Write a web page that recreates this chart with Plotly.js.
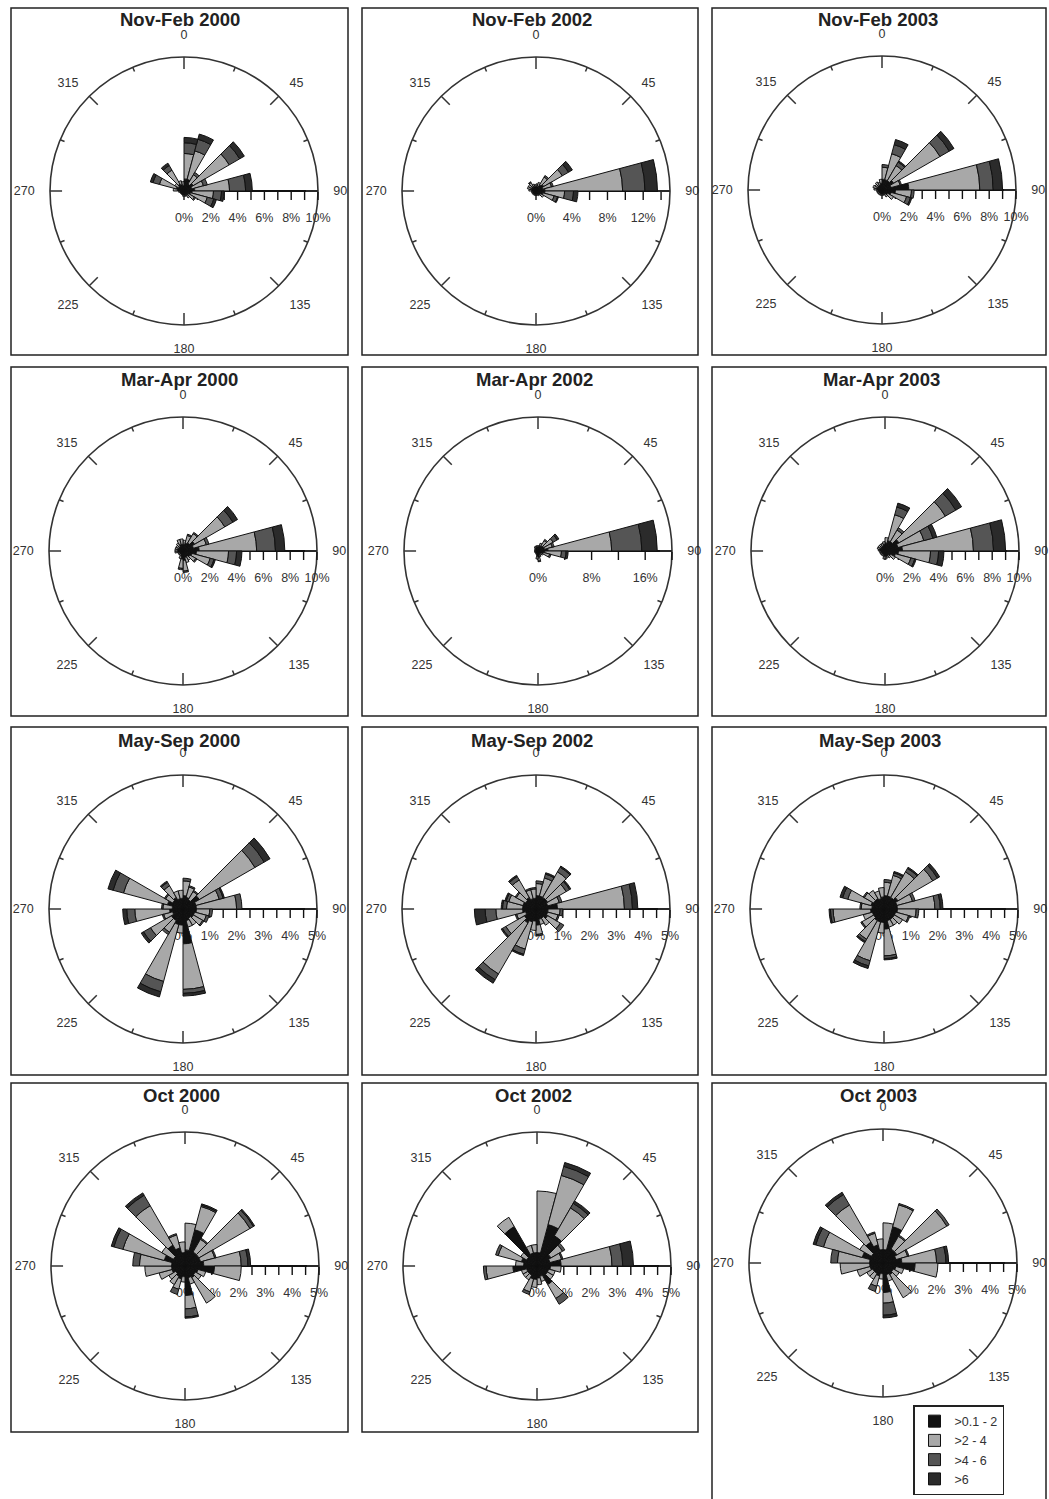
<!DOCTYPE html>
<html><head><meta charset="utf-8">
<script src="https://cdn.plot.ly/plotly-3.0.1.min.js"></script>
<style>html,body{margin:0;padding:0;background:#fff;}#chart{width:1049px;height:1499px;}</style>
</head><body><div id="chart"></div>
<script>
// ---------------- DATA ----------------
const directions = [7.5,22.5,37.5,52.5,67.5,82.5,97.5,112.5,127.5,142.5,157.5,172.5,187.5,202.5,217.5,232.5,247.5,262.5,277.5,292.5,307.5,322.5,337.5,352.5];
const speedClasses = ['>0.1 - 2','>2 - 4','>4 - 6','>6'];
const classColors = ['#111111','#a8a8a8','#555555','#2b2b2b'];
const angleTickValues = [0,45,90,135,180,225,270,315];
const angleTickLabels = ['0','45','90','135','180','225','270','315'];
const minorTickAngles = [22.5,67.5,112.5,157.5,202.5,247.5,292.5,337.5];
const titles = ['Nov-Feb 2000','Nov-Feb 2002','Nov-Feb 2003','Mar-Apr 2000','Mar-Apr 2002','Mar-Apr 2003','May-Sep 2000','May-Sep 2002','May-Sep 2003','Oct 2000','Oct 2002','Oct 2003'];

// each panel: [class >0.1-2, class >2-4, class >4-6, class >6] percent per 15 deg direction bin
const nf00 = [
 [0.9,0.9,0.6,0.8,0.6,0.8,0.6,0.5,0.4,0.4,0.3,0.3,0.3,0.3,0.3,0.3,0.3,0.3,0.5,0.6,0.5,0.6,0.5,0.4],
 [1.9,2.2,0.8,3.1,0.9,2.6,1.6,1.3,0.5,0.2,0.1,0.1,0.1,0,0,0,0,0.1,0.3,1.3,0.3,1.2,0.3,0.3],
 [0.8,0.9,0.2,0.9,0.3,1.2,0.6,0.5,0.1,0,0,0,0,0,0,0,0,0,0,0.5,0,0.4,0,0],
 [0.4,0.4,0,0.4,0,0.5,0.2,0.2,0,0,0,0,0,0,0,0,0,0,0,0.2,0,0.2,0,0]];
const nf02 = [
 [0.5,0.5,0.8,1.0,0.8,1.0,1.0,0.8,0.6,0.5,0.4,0.4,0.4,0.4,0.4,0.4,0.4,0.4,0.5,0.6,0.6,0.6,0.5,0.5],
 [0.3,0.5,1.0,2.4,1.0,8.7,2.2,1.3,0.4,0.1,0.1,0.1,0.1,0.1,0.1,0.1,0.1,0.1,0.3,0.4,0.4,0.5,0.3,0.2],
 [0,0,0.2,0.8,0.2,2.5,1.0,0.4,0,0,0,0,0,0,0,0,0,0,0,0,0,0.1,0,0],
 [0,0,0,0.5,0,1.4,0.5,0.1,0,0,0,0,0,0,0,0,0,0,0,0,0,0,0,0]];
const nf03 = [
 [0.8,0.8,0.8,1.0,0.7,2.0,1.0,0.7,0.5,0.4,0.3,0.3,0.3,0.3,0.3,0.3,0.3,0.3,0.4,0.4,0.4,0.4,0.4,0.5],
 [0.9,2.0,1.3,4.0,0.7,5.3,1.2,1.2,0.5,0.2,0.1,0.1,0.1,0.1,0.1,0.1,0.1,0.1,0.2,0.3,0.2,0.3,0.2,0.3],
 [0.2,0.7,0.3,0.8,0.1,1.0,0.2,0.3,0,0,0,0,0,0,0,0,0,0,0,0,0,0,0,0],
 [0,0.4,0.1,0.4,0,0.7,0,0.1,0,0,0,0,0,0,0,0,0,0,0,0,0,0,0,0]];
const ma00 = [
 [0.5,0.6,0.7,1.0,0.8,1.2,1.0,0.7,0.6,0.5,0.5,0.7,0.6,0.4,0.3,0.3,0.3,0.4,0.4,0.4,0.4,0.4,0.5,0.5],
 [0.3,0.6,0.8,2.6,1.0,4.3,2.4,1.4,0.5,0.3,0.4,0.8,0.7,0.2,0.1,0.1,0.1,0.2,0.2,0.2,0.2,0.3,0.4,0.4],
 [0,0.1,0.1,0.7,0.2,1.4,0.6,0.3,0.1,0,0,0.1,0.1,0,0,0,0,0,0,0,0,0,0,0],
 [0,0,0,0.4,0,0.7,0.4,0.1,0,0,0,0,0,0,0,0,0,0,0,0,0,0,0,0]];
const ma02 = [
 [0.6,0.8,0.9,1.0,1.0,1.5,1.0,0.8,0.6,0.5,0.6,0.9,0.8,0.5,0.4,0.4,0.4,0.4,0.4,0.4,0.5,0.6,0.6,0.6],
 [0.2,0.4,0.9,1.6,1.2,9.5,2.5,1.0,0.3,0.2,0.3,0.6,0.4,0.1,0.1,0.1,0.1,0.1,0.1,0.1,0.1,0.2,0.2,0.2],
 [0,0,0.2,0.7,0.3,4.5,0.7,0.2,0,0,0,0.1,0,0,0,0,0,0,0,0,0,0,0,0],
 [0,0,0,0.3,0,2.3,0.3,0,0,0,0,0,0,0,0,0,0,0,0,0,0,0,0,0]];
const ma03 = [
 [0.6,0.8,0.8,1.2,1.0,1.3,1.0,0.8,0.5,0.4,0.4,0.4,0.4,0.3,0.3,0.3,0.3,0.3,0.4,0.4,0.4,0.4,0.4,0.5],
 [0.4,2.0,1.0,4.0,2.0,5.3,2.4,1.2,0.4,0.2,0.1,0.2,0.2,0.1,0.1,0.1,0.1,0.1,0.1,0.2,0.2,0.2,0.2,0.2],
 [0,0.6,0.2,0.9,0.7,1.5,0.6,0.3,0,0,0,0,0,0,0,0,0,0,0,0,0,0,0,0],
 [0,0.3,0,0.5,0.3,0.9,0.4,0.1,0,0,0,0,0,0,0,0,0,0,0,0,0,0,0,0]];
const ms00 = [
 [0.5,0.45,0.4,0.7,0.5,0.5,0.5,0.45,0.45,0.4,0.45,1.3,0.6,0.6,0.5,0.5,0.4,0.5,0.4,0.6,0.45,0.5,0.4,0.4],
 [0.55,0.4,0.35,2.4,0.9,1.5,0.5,0.45,0.4,0.3,0.25,1.7,0.3,2.2,0.5,0.9,0.35,1.3,0.35,1.7,0.3,0.5,0.3,0.3],
 [0.1,0.05,0.05,0.4,0.15,0.2,0.1,0.1,0.05,0,0,0.15,0,0.4,0.1,0.3,0.05,0.3,0.05,0.4,0.05,0.15,0,0],
 [0,0,0,0.25,0.05,0,0,0,0,0,0,0.1,0,0.2,0,0.1,0,0.15,0,0.2,0,0.05,0,0]];
const ms02 = [
 [0.5,0.5,0.5,0.5,0.45,0.8,0.45,0.45,0.5,0.4,0.4,0.6,0.45,0.5,0.6,0.5,0.4,0.5,0.5,0.5,0.45,0.5,0.4,0.4],
 [0.45,0.7,1.1,0.8,0.45,2.5,0.45,0.4,0.55,0.3,0.2,0.35,0.35,1.05,2.2,0.8,0.35,1.0,0.6,0.55,0.4,0.75,0.35,0.35],
 [0.1,0.15,0.2,0.15,0.1,0.3,0.1,0.05,0.15,0,0,0.05,0,0.2,0.25,0.15,0.05,0.4,0.15,0.1,0.05,0.15,0.05,0.05],
 [0,0.05,0.05,0.05,0,0.2,0,0,0,0,0,0,0,0.05,0.15,0.05,0,0.4,0.05,0.05,0,0.05,0,0]];
const ms03 = [
 [0.5,0.5,0.5,0.6,0.5,0.5,0.5,0.45,0.45,0.45,0.45,0.75,0.5,0.5,0.5,0.45,0.45,0.5,0.45,0.5,0.45,0.45,0.4,0.45],
 [0.5,0.8,1.1,1.5,0.6,1.4,0.7,0.5,0.35,0.25,0.25,1.0,0.4,1.5,0.8,0.5,0.35,1.4,0.4,0.9,0.4,0.35,0.3,0.35],
 [0.1,0.1,0.15,0.2,0.1,0.2,0.1,0.05,0,0,0,0.1,0,0.2,0.1,0.05,0,0.1,0.05,0.2,0.05,0,0,0],
 [0,0.05,0.05,0.1,0,0.1,0,0,0,0,0,0.05,0,0.1,0.05,0,0,0.05,0,0.1,0,0,0,0]];
const oc00 = [
 [0.6,1.4,0.6,0.6,0.6,0.7,1.1,0.5,0.45,0.5,0.45,1.1,0.4,0.5,0.45,0.4,0.5,0.5,0.5,0.8,0.5,0.9,0.7,0.5],
 [1.0,0.9,0.55,2.2,0.55,1.4,1.0,0.3,0.25,1.1,0.25,0.5,0.2,0.4,0.35,0.3,0.5,1.0,1.2,1.6,0.5,1.7,0.5,0.4],
 [0,0.05,0.05,0.15,0.05,0.25,0,0,0,0,0,0.3,0,0.2,0,0,0,0,0.25,0.35,0,0.45,0.05,0],
 [0,0.05,0,0.05,0,0.1,0,0,0,0,0,0.05,0,0,0,0,0,0,0,0.1,0,0.1,0,0]];
const oc02 = [
 [0.5,1.6,1.3,0.6,0.5,0.9,0.5,0.45,0.45,0.8,0.4,0.45,0.5,0.5,0.4,0.4,0.4,0.9,0.5,0.6,0.45,1.7,0.5,0.5],
 [2.3,1.9,1.2,0.5,0.45,1.9,0.4,0.25,0.25,0.6,0.2,0.25,0.3,0.5,0.2,0.2,0.2,1.0,0.3,0.9,0.25,0.4,0.3,0.3],
 [0,0.35,0.2,0.1,0.05,0.4,0,0,0,0.25,0,0,0,0.1,0,0,0,0.1,0,0.1,0,0,0,0],
 [0,0.15,0.1,0,0,0.4,0,0,0,0,0,0,0,0,0,0,0,0,0,0,0,0,0,0]];
const oc03 = [
 [0.5,1.4,0.6,0.6,0.5,0.7,1.2,0.5,0.45,0.5,0.45,1.1,0.4,0.5,0.45,0.45,0.5,0.5,0.5,0.8,0.5,0.9,0.7,0.5],
 [1.0,0.85,0.55,2.15,0.45,1.3,0.85,0.3,0.25,1.0,0.25,0.4,0.2,0.4,0.25,0.25,0.5,1.1,1.2,1.5,0.5,1.6,0.45,0.4],
 [0,0.05,0.05,0.1,0.05,0.35,0,0,0,0,0,0.45,0,0.2,0,0,0,0,0.25,0.3,0,0.45,0.05,0],
 [0,0,0,0,0,0.1,0,0,0,0,0,0.1,0,0,0,0,0,0,0,0.1,0,0.1,0,0]];

const panelData = [nf00,nf02,nf03, ma00,ma02,ma03, ms00,ms02,ms03, oc00,oc02,oc03];
const radialMax = [10,15,10, 10,20,10, 5,5,5, 5,5,5];
const radialTickStep = [1,2,1, 1,4,1, 0.5,0.5,0.5, 0.5,0.5,0.5];
const radialLabelStep = [2,4,2, 2,8,2, 1,1,1, 1,1,1];

// ---------------- GEOMETRY (pixels) ----------------
const W = 1049, H = 1499, R = 134;
const centersX = [[184,536,882],[183,538,885],[183,536,884],[185,537,883]];
const centersY = [[191,191,190],[551,551,551],[909,909,909],[1266,1266,1263]];
const titleY = [20,380,740,1095];
const boxX = [[11,348],[362,698],[712,1046]];
const boxY = [[8,355],[367,716],[727,1075],[1083,1432]];
const FONT = 'Liberation Sans, Arial, Helvetica, sans-serif';

const px = x => x / W;
const py = y => 1 - y / H;

const traces = [];
const layout = {
  width: W, height: H, margin: {l:0,r:0,t:0,b:0}, autosize: false,
  paper_bgcolor: '#ffffff', plot_bgcolor: '#ffffff',
  font: {family: FONT, color: '#333'},
  showlegend: true,
  legend: {x: px(913), y: py(1405), xanchor: 'left', yanchor: 'top',
           bgcolor: '#ffffff', bordercolor: '#222', borderwidth: 1.5,
           font: {family: FONT, size: 12.5, color: '#333'}, itemwidth: 30, tracegroupgap: 0},
  annotations: [], shapes: []
};

for (let i = 0; i < 12; i++) {
  const row = Math.floor(i / 3), col = i % 3;
  const cx = centersX[row][col], cy = centersY[row][col];
  const dom = {x: [px(cx - R), px(cx + R)], y: [py(cy + R), py(cy - R)]};
  const rmax = radialMax[i];
  const tv = [], tt = [];
  const nT = Math.round(rmax / radialTickStep[i]);
  for (let k = 0; k <= nT; k++) {
    const v = Math.round(k * radialTickStep[i] * 100) / 100;
    tv.push(v);
    const q = v / radialLabelStep[i];
    tt.push(Math.abs(q - Math.round(q)) < 1e-6 ? (v + '%') : '');
  }
  const labId = i === 0 ? 'polar' : 'polar' + (i + 1);
  const mainId = 'polar' + (i + 13);

  // label-only polar (beneath, so bars can cover the labels as in the reference)
  layout[labId] = {
    domain: dom, bgcolor: 'rgba(0,0,0,0)',
    angularaxis: {showline: false, showgrid: false, showticklabels: false, ticks: '', rotation: 90, direction: 'clockwise'},
    radialaxis: {range: [0, rmax], angle: 0, side: 'clockwise', showline: false, showgrid: false,
      ticks: 'outside', ticklen: 15, tickcolor: 'rgba(0,0,0,0)', tickmode: 'array', tickvals: tv, ticktext: tt,
      tickfont: {family: FONT, size: 12.5, color: '#333'}}
  };
  traces.push({type: 'scatterpolar', subplot: labId, r: [0], theta: [0], mode: 'markers',
    marker: {size: 1, opacity: 0}, showlegend: false, hoverinfo: 'skip'});

  // main polar
  layout[mainId] = {
    domain: dom, bgcolor: 'rgba(0,0,0,0)', barmode: 'stack', bargap: 0,
    angularaxis: {rotation: 90, direction: 'clockwise', showline: true, linecolor: '#333', linewidth: 1.6,
      showgrid: false, ticks: 'outside', ticklen: 12, tickcolor: 'rgba(0,0,0,0)', tickmode: 'array',
      tickvals: angleTickValues, ticktext: angleTickLabels, layer: 'below traces',
      tickfont: {family: FONT, size: 12.5, color: '#333'}},
    radialaxis: {range: [0, rmax], angle: 0, side: 'clockwise', showline: true, linecolor: '#111', linewidth: 2,
      showgrid: false, ticks: 'outside', ticklen: 8, tickwidth: 1.4, tickcolor: '#111', tickmode: 'array',
      tickvals: tv, showticklabels: false, layer: 'below traces'}
  };
  const d = panelData[i];
  for (let c = 0; c < 4; c++) {
    traces.push({type: 'barpolar', subplot: mainId, r: d[c], theta: directions, width: 15,
      name: speedClasses[c], legendgroup: 'c' + c, showlegend: i === 0,
      marker: {color: classColors[c], line: {color: '#111', width: 1}}, hoverinfo: 'skip'});
  }
  // angular tick marks (inside the circle)
  const tr = [], tth = [];
  angleTickValues.forEach(a => { tr.push(rmax * 0.91, rmax, null); tth.push(a, a, a); });
  minorTickAngles.forEach(a => { tr.push(rmax * 0.965, rmax, null); tth.push(a, a, a); });
  traces.push({type: 'scatterpolar', subplot: mainId, r: tr, theta: tth, mode: 'lines',
    line: {color: '#333', width: 1.5}, showlegend: false, hoverinfo: 'skip', connectgaps: false});

  // title
  layout.annotations.push({x: px(cx - 4), y: py(titleY[row]), xref: 'paper', yref: 'paper',
    text: '<b>' + titles[i] + '</b>', showarrow: false, xanchor: 'center', yanchor: 'middle',
    font: {family: FONT, size: 18.5, color: '#222'}});
  // panel frame
  const by = (row === 3 && col === 2) ? [boxY[row][0], 1510] : boxY[row];
  layout.shapes.push({type: 'rect', xref: 'paper', yref: 'paper',
    x0: px(boxX[col][0]), x1: px(boxX[col][1]), y0: py(by[1]), y1: py(by[0]),
    line: {color: '#222', width: 1.5}, fillcolor: 'rgba(0,0,0,0)'});
}

Plotly.newPlot('chart', traces, layout, {staticPlot: true, displayModeBar: false});
</script>
</body></html>
